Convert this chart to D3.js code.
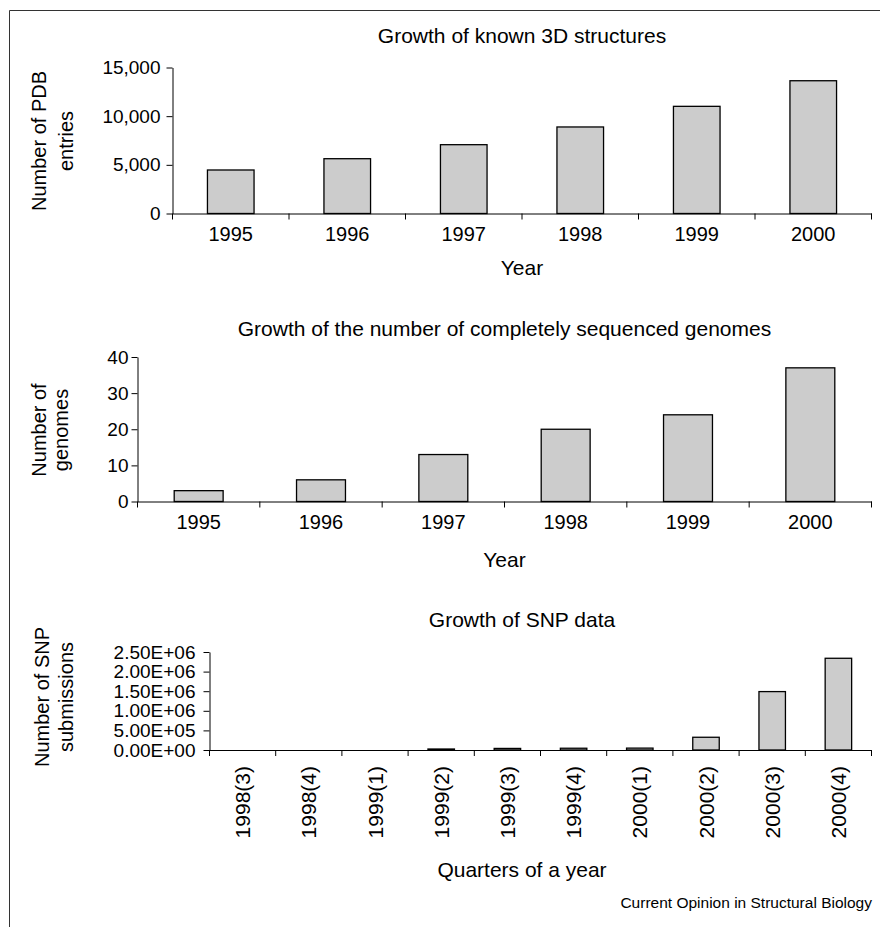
<!DOCTYPE html>
<html>
<head>
<meta charset="utf-8">
<script src="https://cdn.jsdelivr.net/npm/d3@7"></script>
<style>
  html, body { margin: 0; padding: 0; background: #fff; }
  svg text { font-family: "Liberation Sans", Arial, Helvetica, sans-serif; fill: #000; }
  .bar { fill: #cccccc; stroke: #000; stroke-width: 1.3; }
  .axis path, .axis line { stroke: #000; stroke-width: 1; }
</style>
</head>
<body>
<svg width="880" height="927"></svg>
<script>
// data
var years = ['1995', '1996', '1997', '1998', '1999', '2000'];
var pdbEntries = [4470, 5630, 7070, 8890, 11010, 13640];
var pdbTicks = [0, 5000, 10000, 15000];

var genomeCounts = [3, 6, 13, 20, 24, 37];
var genomeTicks = [0, 10, 20, 30, 40];

var snpQuarters = ['1998(3)', '1998(4)', '1999(1)', '1999(2)', '1999(3)',
                   '1999(4)', '2000(1)', '2000(2)', '2000(3)', '2000(4)'];
var snpSubmissions = [0, 0, 0, 25000, 40000, 45000, 48000, 325000, 1490000, 2340000];
var snpTicks = [0, 500000, 1000000, 1500000, 2000000, 2500000];

var svg = d3.select('svg');

// frame (only top and left edges are visible)
svg.append('path')
    .attr('d', 'M9.5,927 V10.5 H880')
    .attr('fill', 'none')
    .attr('stroke', '#333')
    .attr('stroke-width', 1);

// Excel-like scientific label, e.g. 2.50E+06
function sciFormat(v) {
    var s = d3.format('.2e')(v);
    var parts = s.split('e');
    var exp = +parts[1];
    var sign = exp < 0 ? '-' : '+';
    return parts[0] + 'E' + sign + d3.format('02d')(Math.abs(exp));
}

function drawPanel(p) {
    var x = d3.scaleBand()
        .domain(p.cats)
        .range([p.left, p.right])
        .paddingInner(0.6)
        .paddingOuter(0.3);
    var y = d3.scaleLinear()
        .domain([0, p.ticks[p.ticks.length - 1]])
        .range([p.bottom, p.top]);

    var rows = p.cats.map(function(c, i) {
        return {cat: c, val: p.vals[i]};
    }).filter(function(d) { return d.val > 0; });

    var g = svg.append('g');

    // bars (zero values draw nothing)
    g.selectAll('.bar')
        .data(rows)
        .enter()
        .append('rect')
        .attr('class', 'bar')
        .attr('x', function(d) { return x(d.cat); })
        .attr('width', x.bandwidth())
        .attr('y', function(d) { return y(d.val); })
        .attr('height', function(d) { return y(0) - y(d.val); });

    // x axis: labels centred in bands, ticks on band boundaries
    var xAxisG = g.append('g')
        .attr('class', 'axis')
        .attr('transform', 'translate(0,' + p.bottom + ')')
        .call(d3.axisBottom(x).tickSize(0).tickSizeOuter(0).tickPadding(13.5));
    xAxisG.selectAll('text').style('font-size', '20px');
    if (p.rotate) {
        xAxisG.selectAll('text')
            .attr('transform', 'rotate(-90)')
            .attr('x', -16)
            .attr('y', 0)
            .attr('dy', '0.36em')
            .style('font-size', '21px')
            .style('text-anchor', 'end');
    }
    var bounds = d3.range(p.cats.length + 1).map(function(i) {
        return x.range()[0] + i * x.step();
    });
    xAxisG.selectAll('.bound')
        .data(bounds)
        .enter()
        .append('line')
        .attr('class', 'bound')
        .attr('x1', function(d) { return d; })
        .attr('x2', function(d) { return d; })
        .attr('y1', 0)
        .attr('y2', 6);

    // y axis
    var yAxisG = g.append('g')
        .attr('class', 'axis')
        .attr('transform', 'translate(' + p.left + ',0)')
        .call(d3.axisLeft(y).tickValues(p.ticks).tickFormat(p.fmt)
            .tickSize(6).tickSizeOuter(0).tickPadding(p.yPad));
    yAxisG.selectAll('text').style('font-size', '19px');

    // titles
    g.append('text')
        .attr('x', p.cx)
        .attr('y', p.titleY)
        .attr('text-anchor', 'middle')
        .style('font-size', '21px')
        .text(p.title);
    g.append('text')
        .attr('x', p.cx)
        .attr('y', p.xTitleY)
        .attr('text-anchor', 'middle')
        .style('font-size', '21px')
        .text(p.xTitle);

    // two-line rotated y label
    p.yLabel.forEach(function(line, i) {
        g.append('text')
            .attr('transform', 'translate(' + p.yLabelX[i] + ',' + p.yLabelY + ') rotate(-90)')
            .attr('text-anchor', 'middle')
            .style('font-size', '20px')
            .text(line);
    });
}

drawPanel({
    cats: years, vals: pdbEntries, ticks: pdbTicks, fmt: d3.format(','),
    left: 172.5, right: 871.5, top: 67.5, bottom: 213.5, yPad: 6,
    title: 'Growth of known 3D structures', titleY: 43,
    xTitle: 'Year', xTitleY: 275, cx: 522,
    yLabel: ['Number of PDB', 'entries'], yLabelX: [46, 73], yLabelY: 141
});

drawPanel({
    cats: years, vals: genomeCounts, ticks: genomeTicks, fmt: d3.format('d'),
    left: 137.5, right: 871.5, top: 357, bottom: 501.5, yPad: 3,
    title: 'Growth of the number of completely sequenced genomes', titleY: 335.5,
    xTitle: 'Year', xTitleY: 566.5, cx: 504.5,
    yLabel: ['Number of', 'genomes'], yLabelX: [46, 68], yLabelY: 430
});

drawPanel({
    cats: snpQuarters, vals: snpSubmissions, ticks: snpTicks, fmt: sciFormat,
    left: 209.5, right: 871.5, top: 652, bottom: 750, yPad: 8, rotate: true,
    title: 'Growth of SNP data', titleY: 626.5,
    xTitle: 'Quarters of a year', xTitleY: 876.5, cx: 522,
    yLabel: ['Number of SNP', 'submissions'], yLabelX: [49, 73], yLabelY: 697
});

// source credit
svg.append('text')
    .attr('x', 872)
    .attr('y', 908)
    .attr('text-anchor', 'end')
    .style('font-size', '15.5px')
    .text('Current Opinion in Structural Biology');
</script>
</body>
</html>
